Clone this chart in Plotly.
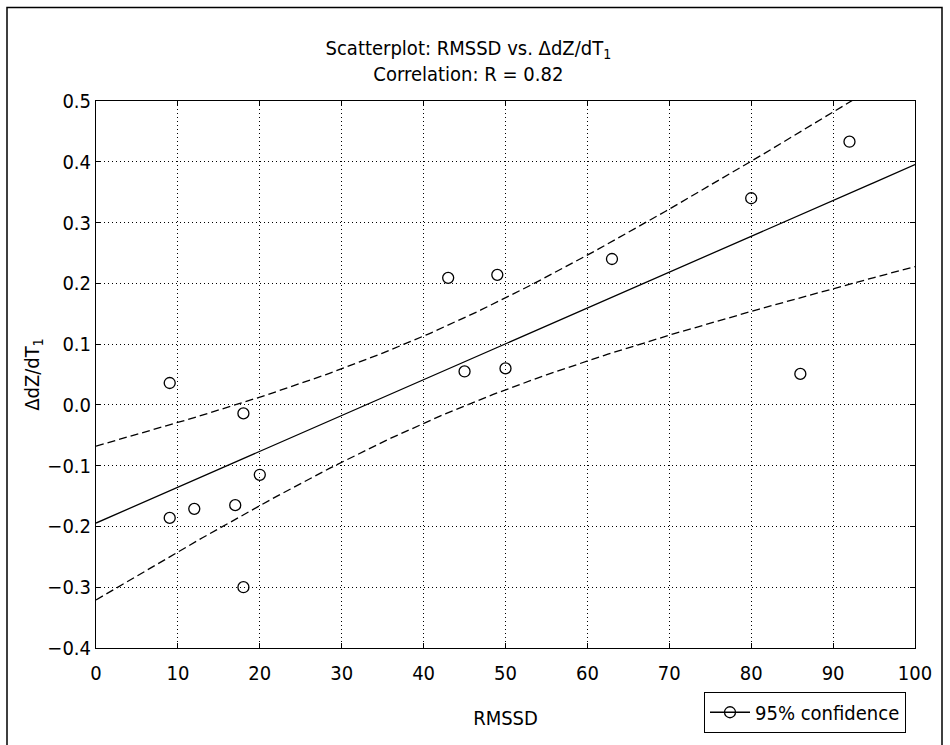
import numpy as np
import plotly.graph_objects as go

# Observations: RMSSD vs. change in dZ/dT1
rmssd = [9, 9, 12, 17, 18, 18, 20, 43, 45, 49, 50, 63, 80, 86, 92]
ddzdt = [0.036, -0.186, -0.171, -0.165, -0.014, -0.300, -0.115,
         0.209, 0.055, 0.214, 0.060, 0.240, 0.340, 0.051, 0.433]

x_ticks = [0, 10, 20, 30, 40, 50, 60, 70, 80, 90, 100]
y_ticks = [-0.4, -0.3, -0.2, -0.1, 0.0, 0.1, 0.2, 0.3, 0.4, 0.5]

T_975_DF13 = 2.160  # two-sided 95% Student t quantile, n - 2 = 13 dof

FONT = "Liberation Sans Narrow, Arial Narrow, DejaVu Sans Condensed, Helvetica, sans-serif"

# Least-squares fit and 95% confidence band for the mean response
x = np.asarray(rmssd, dtype=float)
y = np.asarray(ddzdt, dtype=float)
n = len(x)
xm, ym = x.mean(), y.mean()
sxx = np.sum((x - xm) ** 2)
slope = np.sum((x - xm) * (y - ym)) / sxx
intercept = ym - slope * xm
s = np.sqrt(np.sum((y - (intercept + slope * x)) ** 2) / (n - 2))

xf = np.linspace(x_ticks[0], x_ticks[-1], 201)
yf = intercept + slope * xf
half = T_975_DF13 * s * np.sqrt(1.0 / n + (xf - xm) ** 2 / sxx)

fig = go.Figure()

fig.add_trace(go.Scatter(x=xf, y=yf, mode="lines",
                         line=dict(color="black", width=1.3), showlegend=False))
fig.add_trace(go.Scatter(x=xf, y=yf + half, mode="lines",
                         line=dict(color="black", width=1.3, dash="8px,4px"), showlegend=False))
fig.add_trace(go.Scatter(x=xf, y=yf - half, mode="lines",
                         line=dict(color="black", width=1.3, dash="8px,4px"), showlegend=False))
fig.add_trace(go.Scatter(x=rmssd, y=ddzdt, mode="markers",
                         marker=dict(symbol="circle-open", size=11, color="black",
                                     line=dict(width=1.3, color="black")),
                         showlegend=False))
# legend key
fig.add_trace(go.Scatter(x=[None], y=[None], mode="lines+markers", name="95% confidence",
                         line=dict(color="black", width=1.3),
                         marker=dict(symbol="circle-open", size=11, color="black",
                                     line=dict(width=1.3, color="black"))))

axis_common = dict(
    showline=True, linecolor="black", linewidth=1, mirror="ticks",
    ticks="inside", ticklen=5, tickcolor="black", tickwidth=1,
    showgrid=True, gridcolor="black", gridwidth=1, griddash="1px,3px",
    zeroline=False,
    tickfont=dict(family=FONT, size=20, color="black"),
)

fig.update_xaxes(range=[x_ticks[0], x_ticks[-1]], tickvals=x_ticks,
                 ticklabelstandoff=7,
                 title=dict(text="RMSSD", font=dict(family=FONT, size=20, color="black"),
                            standoff=26),
                 **axis_common)
fig.update_yaxes(range=[y_ticks[0], y_ticks[-1]], tickvals=y_ticks, tickformat=".1f",
                 title=dict(text="ΔdZ/dT<sub>1</sub>",
                            font=dict(family=FONT, size=20, color="black"), standoff=2),
                 **axis_common)

# outer figure frame
fig.add_shape(type="rect", xref="paper", yref="paper",
              x0=(7 - 96) / 819, x1=(942 - 96) / 819,
              y0=(651 - 770) / 550, y1=(651 - 7) / 550,
              line=dict(color="black", width=1.5), fillcolor="rgba(0,0,0,0)", layer="below")

fig.update_layout(
    width=950, height=745,
    margin=dict(l=96, r=35, t=101, b=94),
    paper_bgcolor="white", plot_bgcolor="white",
    font=dict(family=FONT, size=20, color="black"),
    title=dict(text="Scatterplot: RMSSD vs. ΔdZ/dT<sub>1</sub><br>Correlation: R = 0.82",
               x=0.493, xref="container", xanchor="center",
               y=1 - 55 / 745, yref="container", yanchor="top",
               font=dict(family=FONT, size=20, color="black")),
    legend=dict(x=(704 - 96) / 819, y=(651 - 695) / 550, xanchor="left", yanchor="top",
                bgcolor="white", bordercolor="black", borderwidth=1,
                font=dict(family=FONT, size=20, color="black"),
                itemwidth=40),
    showlegend=True,
)

fig.write_html("out.html")
